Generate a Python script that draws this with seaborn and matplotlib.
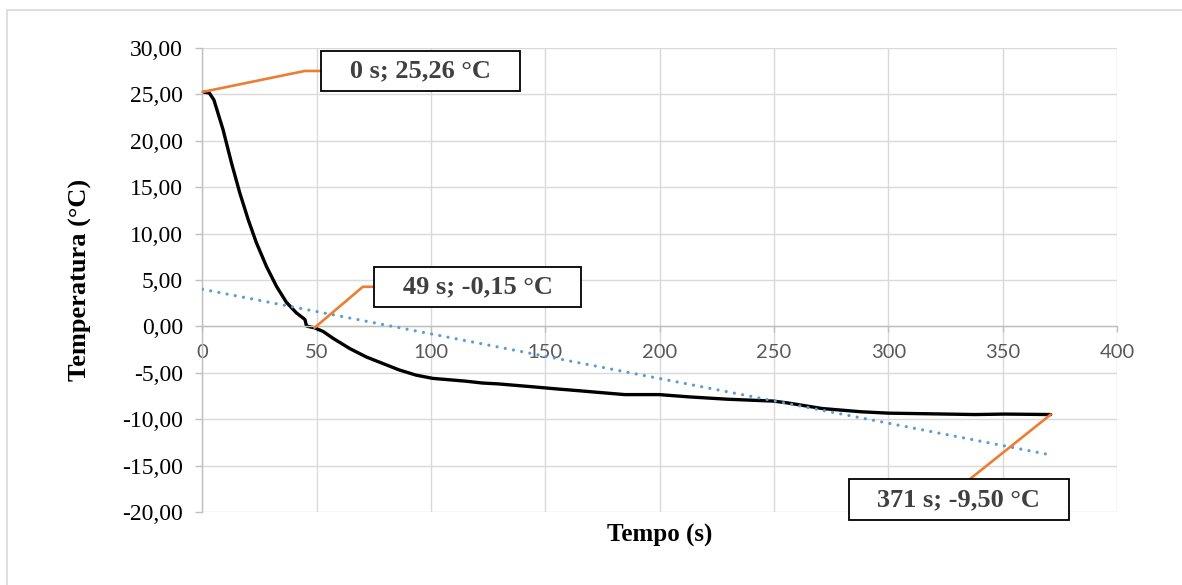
import matplotlib
matplotlib.use("Agg")
import matplotlib.pyplot as plt
from matplotlib.lines import Line2D
import seaborn as sns
import pandas as pd

# ---- data ----
time_s = [0, 3, 5, 9, 12.7, 16.3, 20, 23.6, 28, 32.4, 36.7, 41.1, 44.8, 45.5, 47, 49,
          52.8, 57.2, 64.5, 71.7, 78.9, 86.1, 93.4, 100.6, 107.8, 115, 122.3, 129.5,
          144, 155.5, 163, 175, 184.7, 199.7, 213, 229.7, 249.7, 256, 271, 288, 300,
          313, 338, 351, 371]
temp_c = [25.26, 25.15, 24.4, 21.2, 17.6, 14.4, 11.5, 9.0, 6.45, 4.3, 2.6, 1.45, 0.75, 0.05, -0.05, -0.15,
          -0.55, -1.3, -2.4, -3.3, -4.0, -4.7, -5.25, -5.6, -5.75, -5.9, -6.1, -6.2,
          -6.5, -6.75, -6.9, -7.15, -7.35, -7.35, -7.6, -7.85, -8.05, -8.25, -8.85, -9.2, -9.35,
          -9.4, -9.5, -9.45, -9.5]
trend_time = [0, 371]
trend_temp = [4.0, -13.85]
annot_time = [0, 49, 371]
annot_temp = [25.26, -0.15, -9.50]
x_ticks = [0, 50, 100, 150, 200, 250, 300, 350, 400]
y_ticks = [-20, -15, -10, -5, 0, 5, 10, 15, 20, 25, 30]

sns.set_theme(style="white")
plt.rcParams["font.family"] = ["Liberation Serif", "DejaVu Sans"]

df = pd.DataFrame({"Tempo": time_s, "Temp": temp_c})
df_trend = pd.DataFrame({"Tempo": trend_time, "Temp": trend_temp})

fig = plt.figure(figsize=(11.82, 5.85), dpi=100)
ax = fig.add_axes([0.1713, 0.1248, 0.7737, 0.7932])

sns.lineplot(data=df_trend, x="Tempo", y="Temp", ax=ax, color="#5B9BD5", lw=2.3,
             linestyle=(0, (0.01, 2.6)), dash_capstyle="round", zorder=3)
sns.lineplot(data=df, x="Tempo", y="Temp", ax=ax, color="black", lw=2.4, zorder=2,
             solid_joinstyle="round")

ax.set_xlim(0, 400)
ax.set_ylim(-20, 30)

ax.grid(True, color="#D9D9D9", lw=1.0)
ax.set_axisbelow(True)
for s in ["top", "right"]:
    ax.spines[s].set_visible(False)
ax.spines["bottom"].set_position(("data", 0))
ax.spines["bottom"].set_color("#BFBFBF")
ax.spines["left"].set_color("#BFBFBF")
ax.spines["bottom"].set_linewidth(1.0)
ax.spines["left"].set_linewidth(1.0)

ax.set_xticks(x_ticks)
ax.set_yticks(y_ticks)
ax.set_xticklabels([str(v) for v in x_ticks])
ax.set_yticklabels([f"{v:.2f}".replace(".", ",") for v in y_ticks])
ax.tick_params(axis="x", bottom=True, direction="out", length=4, width=1, color="#BFBFBF", pad=9,
               labelsize=14.5, labelcolor="#595959", labelfontfamily="Lato")
ax.tick_params(axis="y", left=True, direction="out", length=5, width=1, color="#BFBFBF", pad=9,
               labelsize=17, labelcolor="black")

ax.set_xlabel("Tempo (s)", fontsize=18, fontweight="bold", color="black")
ax.set_ylabel("Temperatura (°C)", fontsize=19, fontweight="bold", color="black")
ax.xaxis.set_label_coords(0.5, -0.026)
ax.yaxis.set_label_coords(-0.121, 0.5)

# data labels with leader lines
offsets = [(218, 21), (163, 41), (-92, -85)]
conns = ["angle,angleA=0,angleB=11.6,rad=0", "angle,angleA=0,angleB=40.3,rad=0", "arc3,rad=0"]
relposs = [(0, 0.5), (0, 0.5), (0.5, 1)]
for t, v, off, cs, rp in zip(annot_time, annot_temp, offsets, conns, relposs):
    label = f"{t} s; {v:.2f} °C".replace(".", ",")
    ax.annotate("   " + label + "   ", xy=(t, v), xytext=off, textcoords="offset pixels",
                ha="center", va="center", fontsize=19, fontweight="bold", color="#404040",
                bbox=dict(boxstyle="square,pad=0.33", fc="white", ec="black", lw=1.3),
                arrowprops=dict(arrowstyle="-", color="#ED7D31", lw=1.9, shrinkA=0, shrinkB=0,
                                relpos=rp, connectionstyle=cs),
                annotation_clip=False, zorder=5)

# outer chart frame (partially visible)
fig.add_artist(Line2D([7 / 1182, 1], [1 - 9.5 / 585] * 2, transform=fig.transFigure,
                      color="#D9D9D9", lw=1.2))
fig.add_artist(Line2D([7 / 1182] * 2, [0, 1 - 9.5 / 585], transform=fig.transFigure,
                      color="#D9D9D9", lw=1.2))

fig.savefig("out.png", dpi=100)
